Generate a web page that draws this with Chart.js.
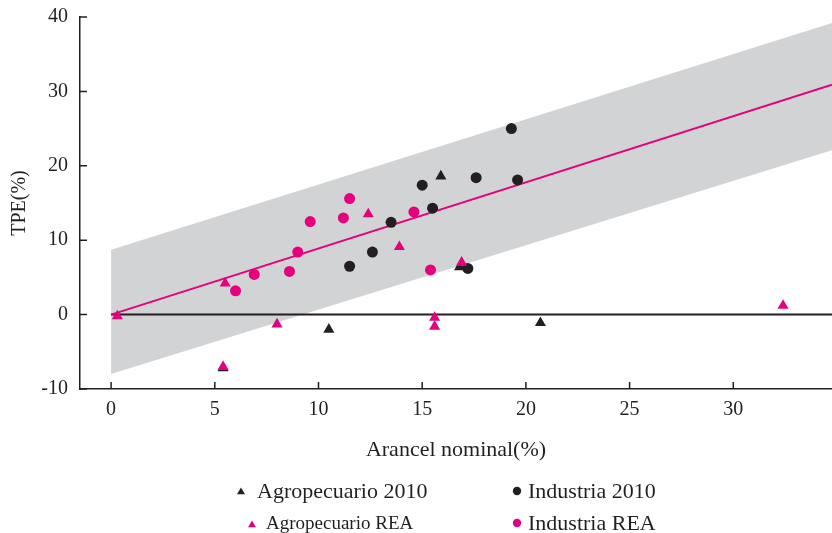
<!DOCTYPE html>
<html>
<head>
<meta charset="utf-8">
<script src="https://cdn.jsdelivr.net/npm/chart.js@4.4.1/dist/chart.umd.min.js"></script>
<style>
  html, body { margin: 0; padding: 0; background: #fff; }
  #wrap { width: 832px; height: 533px; }
</style>
</head>
<body>
<div id="wrap"><canvas id="chart" width="832" height="533"></canvas></div>
<script>
// Values
const agro2010X = [5.4, 10.5, 15.9, 16.8, 20.7];
const agro2010Y = [-7.2, -2.0, 18.6, 6.4, -1.1];

const indus2010X = [11.5, 12.6, 13.5, 15.0, 15.5, 17.6, 19.3, 19.6, 17.2];
const indus2010Y = [6.5, 8.4, 12.4, 17.4, 14.3, 18.4, 25.0, 18.1, 6.2];

const agroReaX = [0.3, 5.5, 5.4, 8.0, 12.4, 13.9, 16.9, 15.6, 15.6, 32.4];
const agroReaY = [-0.2, 4.2, -7.0, -1.3, 13.5, 9.1, 7.0, -0.4, -1.6, 1.2];

const indusReaX = [6.0, 6.9, 8.6, 9.0, 9.6, 11.2, 11.5, 14.6, 15.4];
const indusReaY = [3.2, 5.4, 5.8, 8.4, 12.5, 13.0, 15.6, 13.8, 6.0];

// axis range and ticks
const xMin = -1.5, xMax = 34.76;
const yMin = -10, yMax = 40;
const xTicks = [0, 5, 10, 15, 20, 25, 30];
const yTicks = [-10, 0, 10, 20, 30, 40];

// trend line, zero line and the grey band (ends at x = 0 and x = xMax)
const lineX = [0, xMax];
const trendY = [0, 30.9];
const zeroY = [0, 0];
const bandTopY = [8.7, 39.2];
const bandLowY = [-8.0, 22.1];

const xTitle = 'Arancel nominal(%)';
const yTitle = 'TPE(%)';

const ink = '#231f20';
const pink = '#e5007e';
const grey = '#d1d3d4';
const serif = "'Liberation Serif', 'DejaVu Serif', serif";

function pts(xs, ys) {
  return xs.map((x, i) => ({ x: x, y: ys[i] }));
}

// inward tick marks, axis titles and the 2x2 legend
const extras = {
  id: 'extras',
  afterDraw(chart) {
    const ctx = chart.ctx;
    const xs = chart.scales.x, ys = chart.scales.y;
    ctx.save();
    ctx.strokeStyle = ink;
    ctx.lineWidth = 1.5;
    ctx.beginPath();
    xTicks.forEach(v => {
      const px = xs.getPixelForValue(v);
      ctx.moveTo(px, ys.bottom);
      ctx.lineTo(px, ys.bottom - 7);
    });
    yTicks.forEach(v => {
      const py = ys.getPixelForValue(v);
      ctx.moveTo(xs.left, py);
      ctx.lineTo(xs.left + 7, py);
    });
    ctx.stroke();

    ctx.fillStyle = ink;
    ctx.textBaseline = 'alphabetic';
    ctx.textAlign = 'center';
    ctx.font = '22px ' + serif;
    ctx.fillText(xTitle, (xs.left + xs.right) / 2, 456);
    ctx.save();
    ctx.translate(25, (ys.top + ys.bottom) / 2);
    ctx.rotate(-Math.PI / 2);
    ctx.font = '20px ' + serif;
    ctx.fillText(yTitle, 0, 0);
    ctx.restore();

    // legend: dataset index, marker pos, text pos, font size
    const items = [
      { ds: 2, mx: 241, my: 492, r: 4.6, tx: 257, ty: 498, size: 22 },
      { ds: 3, mx: 517, my: 491, r: 4.2, tx: 528, ty: 498, size: 22 },
      { ds: 0, mx: 252, my: 525, r: 4.6, tx: 266, ty: 529, size: 19 },
      { ds: 1, mx: 517, my: 523, r: 4.2, tx: 528, ty: 530, size: 22 }
    ];
    ctx.textAlign = 'left';
    items.forEach(it => {
      const d = chart.data.datasets[it.ds];
      ctx.fillStyle = d.backgroundColor;
      Chart.helpers.drawPoint(ctx, { pointStyle: d.pointStyle, radius: it.r, rotation: 0, borderWidth: 0 }, it.mx, it.my);
      ctx.fillStyle = ink;
      ctx.font = it.size + 'px ' + serif;
      ctx.fillText(d.label, it.tx, it.ty);
    });
    ctx.restore();
  }
};

const tickFont = { family: serif, size: 20 };

new Chart(document.getElementById('chart'), {
  type: 'scatter',
  data: {
    datasets: [
      {
        label: 'Agropecuario REA',
        data: pts(agroReaX, agroReaY),
        pointStyle: 'triangle', pointRadius: 6.4,
        backgroundColor: pink, borderWidth: 0
      },
      {
        label: 'Industria REA',
        data: pts(indusReaX, indusReaY),
        pointStyle: 'circle', pointRadius: 5.5,
        backgroundColor: pink, borderWidth: 0
      },
      {
        label: 'Agropecuario 2010',
        data: pts(agro2010X, agro2010Y),
        pointStyle: 'triangle', pointRadius: 6.4,
        backgroundColor: ink, borderWidth: 0
      },
      {
        label: 'Industria 2010',
        data: pts(indus2010X, indus2010Y),
        pointStyle: 'circle', pointRadius: 5.5,
        backgroundColor: ink, borderWidth: 0
      },
      {
        type: 'line', label: 'trend',
        data: pts(lineX, trendY),
        borderColor: pink, borderWidth: 2, pointRadius: 0, fill: false
      },
      {
        type: 'line', label: 'zero',
        data: pts(lineX, zeroY),
        borderColor: ink, borderWidth: 2, pointRadius: 0, fill: false
      },
      {
        type: 'line', label: 'band top',
        data: pts(lineX, bandTopY),
        borderWidth: 0, borderColor: grey, backgroundColor: grey,
        pointRadius: 0, fill: '+1'
      },
      {
        type: 'line', label: 'band low',
        data: pts(lineX, bandLowY),
        borderWidth: 0, borderColor: grey, backgroundColor: grey,
        pointRadius: 0, fill: false
      }
    ]
  },
  options: {
    responsive: false,
    animation: false,
    layout: { autoPadding: false, padding: { top: 17, right: 0, left: 0, bottom: 0 } },
    plugins: {
      legend: { display: false },
      tooltip: { enabled: false }
    },
    scales: {
      x: {
        type: 'linear', min: xMin, max: xMax,
        grid: { display: false, drawTicks: false },
        border: { display: true, color: ink, width: 1.5 },
        ticks: { color: ink, font: tickFont, padding: 9, maxRotation: 0, autoSkip: false },
        afterBuildTicks: s => { s.ticks = xTicks.map(v => ({ value: v })); },
        afterFit: s => { s.height = 144; s.paddingLeft = 0; s.paddingRight = 0; }
      },
      y: {
        type: 'linear', min: yMin, max: yMax,
        grid: { display: false, drawTicks: false },
        border: { display: true, color: ink, width: 1.5 },
        ticks: { color: ink, font: tickFont, padding: 12, autoSkip: false },
        afterBuildTicks: s => { s.ticks = yTicks.map(v => ({ value: v })); },
        afterFit: s => { s.width = 80; s.paddingTop = 0; s.paddingBottom = 0; }
      }
    }
  },
  plugins: [extras]
});
</script>
</body>
</html>
